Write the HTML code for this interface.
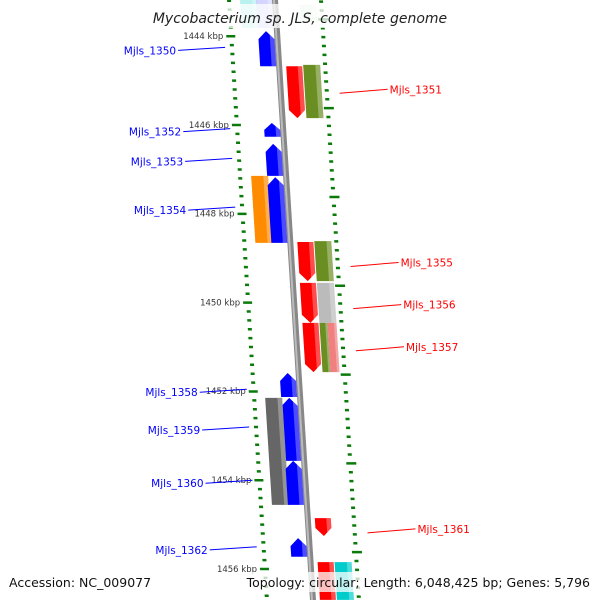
<!DOCTYPE html>
<html><head><meta charset="utf-8"><style>
body{margin:0;background:#fff}
svg{display:block;font-family:"DejaVu Sans","Liberation Sans",sans-serif}
</style></head><body>
<svg id="c" width="600" height="600" viewBox="0 0 600 600">
<g id="skew" transform="skewX(3.62)"></g>
<g id="labels"></g>
<rect x="150" y="4" width="300" height="24" fill="#fff" opacity="0.75"/>
<text x="300" y="23" text-anchor="middle" font-size="14" font-style="italic" fill="#222">Mycobacterium sp. JLS, complete genome</text>
<rect x="0" y="572" width="600" height="20" fill="#fff" opacity="0.75"/>
<text x="9" y="587" font-size="12.5" fill="#111">Accession: NC_009077</text>
<text x="590" y="587" font-size="12.5" fill="#111" text-anchor="end">Topology: circular; Length: 6,048,425 bp; Genes: 5,796</text>
</svg>
<script>
const geneNames=["top-a","top-b","top-c","Mjls_1350","Mjls_1351","g1351b","Mjls_1352","Mjls_1353","g1354a","Mjls_1354","Mjls_1355","g1355b","Mjls_1356","g1356b","Mjls_1357","g1357b","g1357c","Mjls_1358","Mjls_1359","g1360a","Mjls_1360","Mjls_1361","Mjls_1362","bot-a","bot-b"];
const geneStart=[1443.1,1443.1,1443.3,1443.89,1444.68,1444.65,1445.96,1446.43,1447.15,1447.18,1448.64,1448.62,1449.56,1449.56,1450.46,1450.46,1450.46,1451.59,1452.15,1452.15,1453.57,1454.86,1455.31,1455.85,1455.85];
const geneEnd=[1443.82,1443.82,1443.7,1444.68,1445.85,1445.85,1446.27,1447.15,1448.66,1448.66,1449.52,1449.52,1450.46,1450.46,1451.57,1451.57,1451.57,1452.13,1453.57,1454.56,1454.56,1455.26,1455.73,1456.7,1456.7];
const geneLane=["r2","r1","f2","r1","f1","f2","r1","r1","r2","r1","f1","f2","f1","f2","f1","f2a","f2b","r1","r1","r2","r1","f1","r1","f1","f2"];
const geneArrow=[0,0,0,1,1,0,1,1,0,1,1,0,1,0,1,0,0,1,1,0,1,1,1,0,0];
const geneColor=["#66e0e0","#b8b8ff","#cfe8cf","#0000ff","#ff0000","#6b8e23","#0000ff","#0000ff","#ff8c00","#0000ff","#ff0000","#6b8e23","#ff0000","#bbbbbb","#ff0000","#6b8e23","#f08080","#0000ff","#0000ff","#666666","#0000ff","#ff0000","#0000ff","#ff0000","#00cccc"];
const geneAlpha=[0.45,0.6,0.6,1,1,1,1,1,1,1,1,1,1,1,1,1,1,1,1,1,1,1,1,1,1];
const tickKbp=[1444,1446,1448,1450,1452,1454,1456];
const tickLabels=["1444 kbp","1446 kbp","1448 kbp","1450 kbp","1452 kbp","1454 kbp","1456 kbp"];
const labelNames=["Mjls_1350","Mjls_1351","Mjls_1352","Mjls_1353","Mjls_1354","Mjls_1355","Mjls_1356","Mjls_1357","Mjls_1358","Mjls_1359","Mjls_1360","Mjls_1361","Mjls_1362"];
const labelKbp=[1444.3,1445.2,1446.13,1446.8,1447.9,1449.1,1450.05,1451.0,1452.0,1452.85,1454.05,1455.1,1455.55];
const labelSide=["L","R","L","L","L","R","R","R","L","L","L","R","L"];

const NS="http://www.w3.org/2000/svg";
const y=k=>36+(k-1444)*44.4;
const sh=yy=>yy*0.0633;
const lanes={r2:[240,257],r1:[256,272],f1:[282,298],f2:[299,316],f2a:[299,307],f2b:[307,316]};
const G=document.getElementById('skew'),L=document.getElementById('labels');
function mk(p,tag,at){const e=document.createElementNS(NS,tag);for(const k in at)e.setAttribute(k,at[k]);p.appendChild(e);return e;}
// ticks
for(let k=1443.2;k<1456.9;k+=0.2){const yy=y(k);const maj=Math.abs(k-Math.round(k))<0.01&&Math.round(k)%2===0;
 const d=mk(G,'rect',{x:maj?224:227,y:yy-1,width:maj?9:4,height:2.5,fill:'#0a7a0a'});
 
 
 const yr=yy-8;const majr=Math.abs((k+0.2)-Math.round(k+0.2))<0.01&&Math.round(k+0.2)%2===0;
 const d2=mk(G,'rect',{x:majr?317:319,y:yr-1,width:majr?10:4,height:2.5,fill:'#0a7a0a'});
 
 }
// backbone
const bb=mk(G,'rect',{x:272,y:-10,width:6,height:620,fill:'#888'});


mk(G,'rect',{x:273,y:-10,width:2,height:620,fill:'#bbb'});
// genes
for(let i=0;i<geneNames.length;i++){
 const [x1,x2]=lanes[geneLane[i]];let y1=y(geneStart[i]),y2=y(geneEnd[i]);
 const fwd=geneLane[i][0]==='f';const a=geneArrow[i]?Math.min(8,(y2-y1)/2):0;const m=(x1+x2)/2;
 let pts;
 if(fwd)pts=[[x1,y1],[x2,y1],[x2,y2-a],[m,y2],[x1,y2-a]];
 else pts=[[m,y1],[x2,y1+a],[x2,y2],[x1,y2],[x1,y1+a]];
 const g=mk(G,'g',{opacity:geneAlpha[i]});
 
 
 mk(g,'polygon',{points:pts.map(p=>p.join(',')).join(' '),fill:geneColor[i]});
 const w=(x2-x1);const sx=x2-w*0.28;
 const hp=pts.map(p=>[Math.max(p[0],sx),p[1]]);
 mk(g,'polygon',{points:hp.map(p=>p.join(',')).join(' '),fill:'#fff',opacity:0.3});
}
// tick labels
tickKbp.forEach((k,i)=>{const yy=y(k);const t=mk(L,'text',{x:221+sh(yy),y:yy+3,'font-size':8.5,fill:'#333','text-anchor':'end'});t.textContent=tickLabels[i];
 
 });
// gene labels
labelNames.forEach((n,i)=>{const yy=y(labelKbp[i]);const g=mk(L,'g',{});
 
 
 if(labelSide[i]==='L'){const xe=222+sh(yy);mk(g,'line',{x1:xe-47,y1:yy+1,x2:xe,y2:yy-2,stroke:'#00f'});
  const t=mk(g,'text',{x:xe-49,y:yy+5,'font-size':10.5,fill:'#00f','text-anchor':'end'});t.textContent=n;}
 else{const xs=334+sh(yy);mk(g,'line',{x1:xs,y1:yy+4,x2:xs+48,y2:yy,stroke:'#f00'});
  const t=mk(g,'text',{x:xs+50,y:yy+4,'font-size':10.5,fill:'#f00'});t.textContent=n;}});
</script>
</body></html>
